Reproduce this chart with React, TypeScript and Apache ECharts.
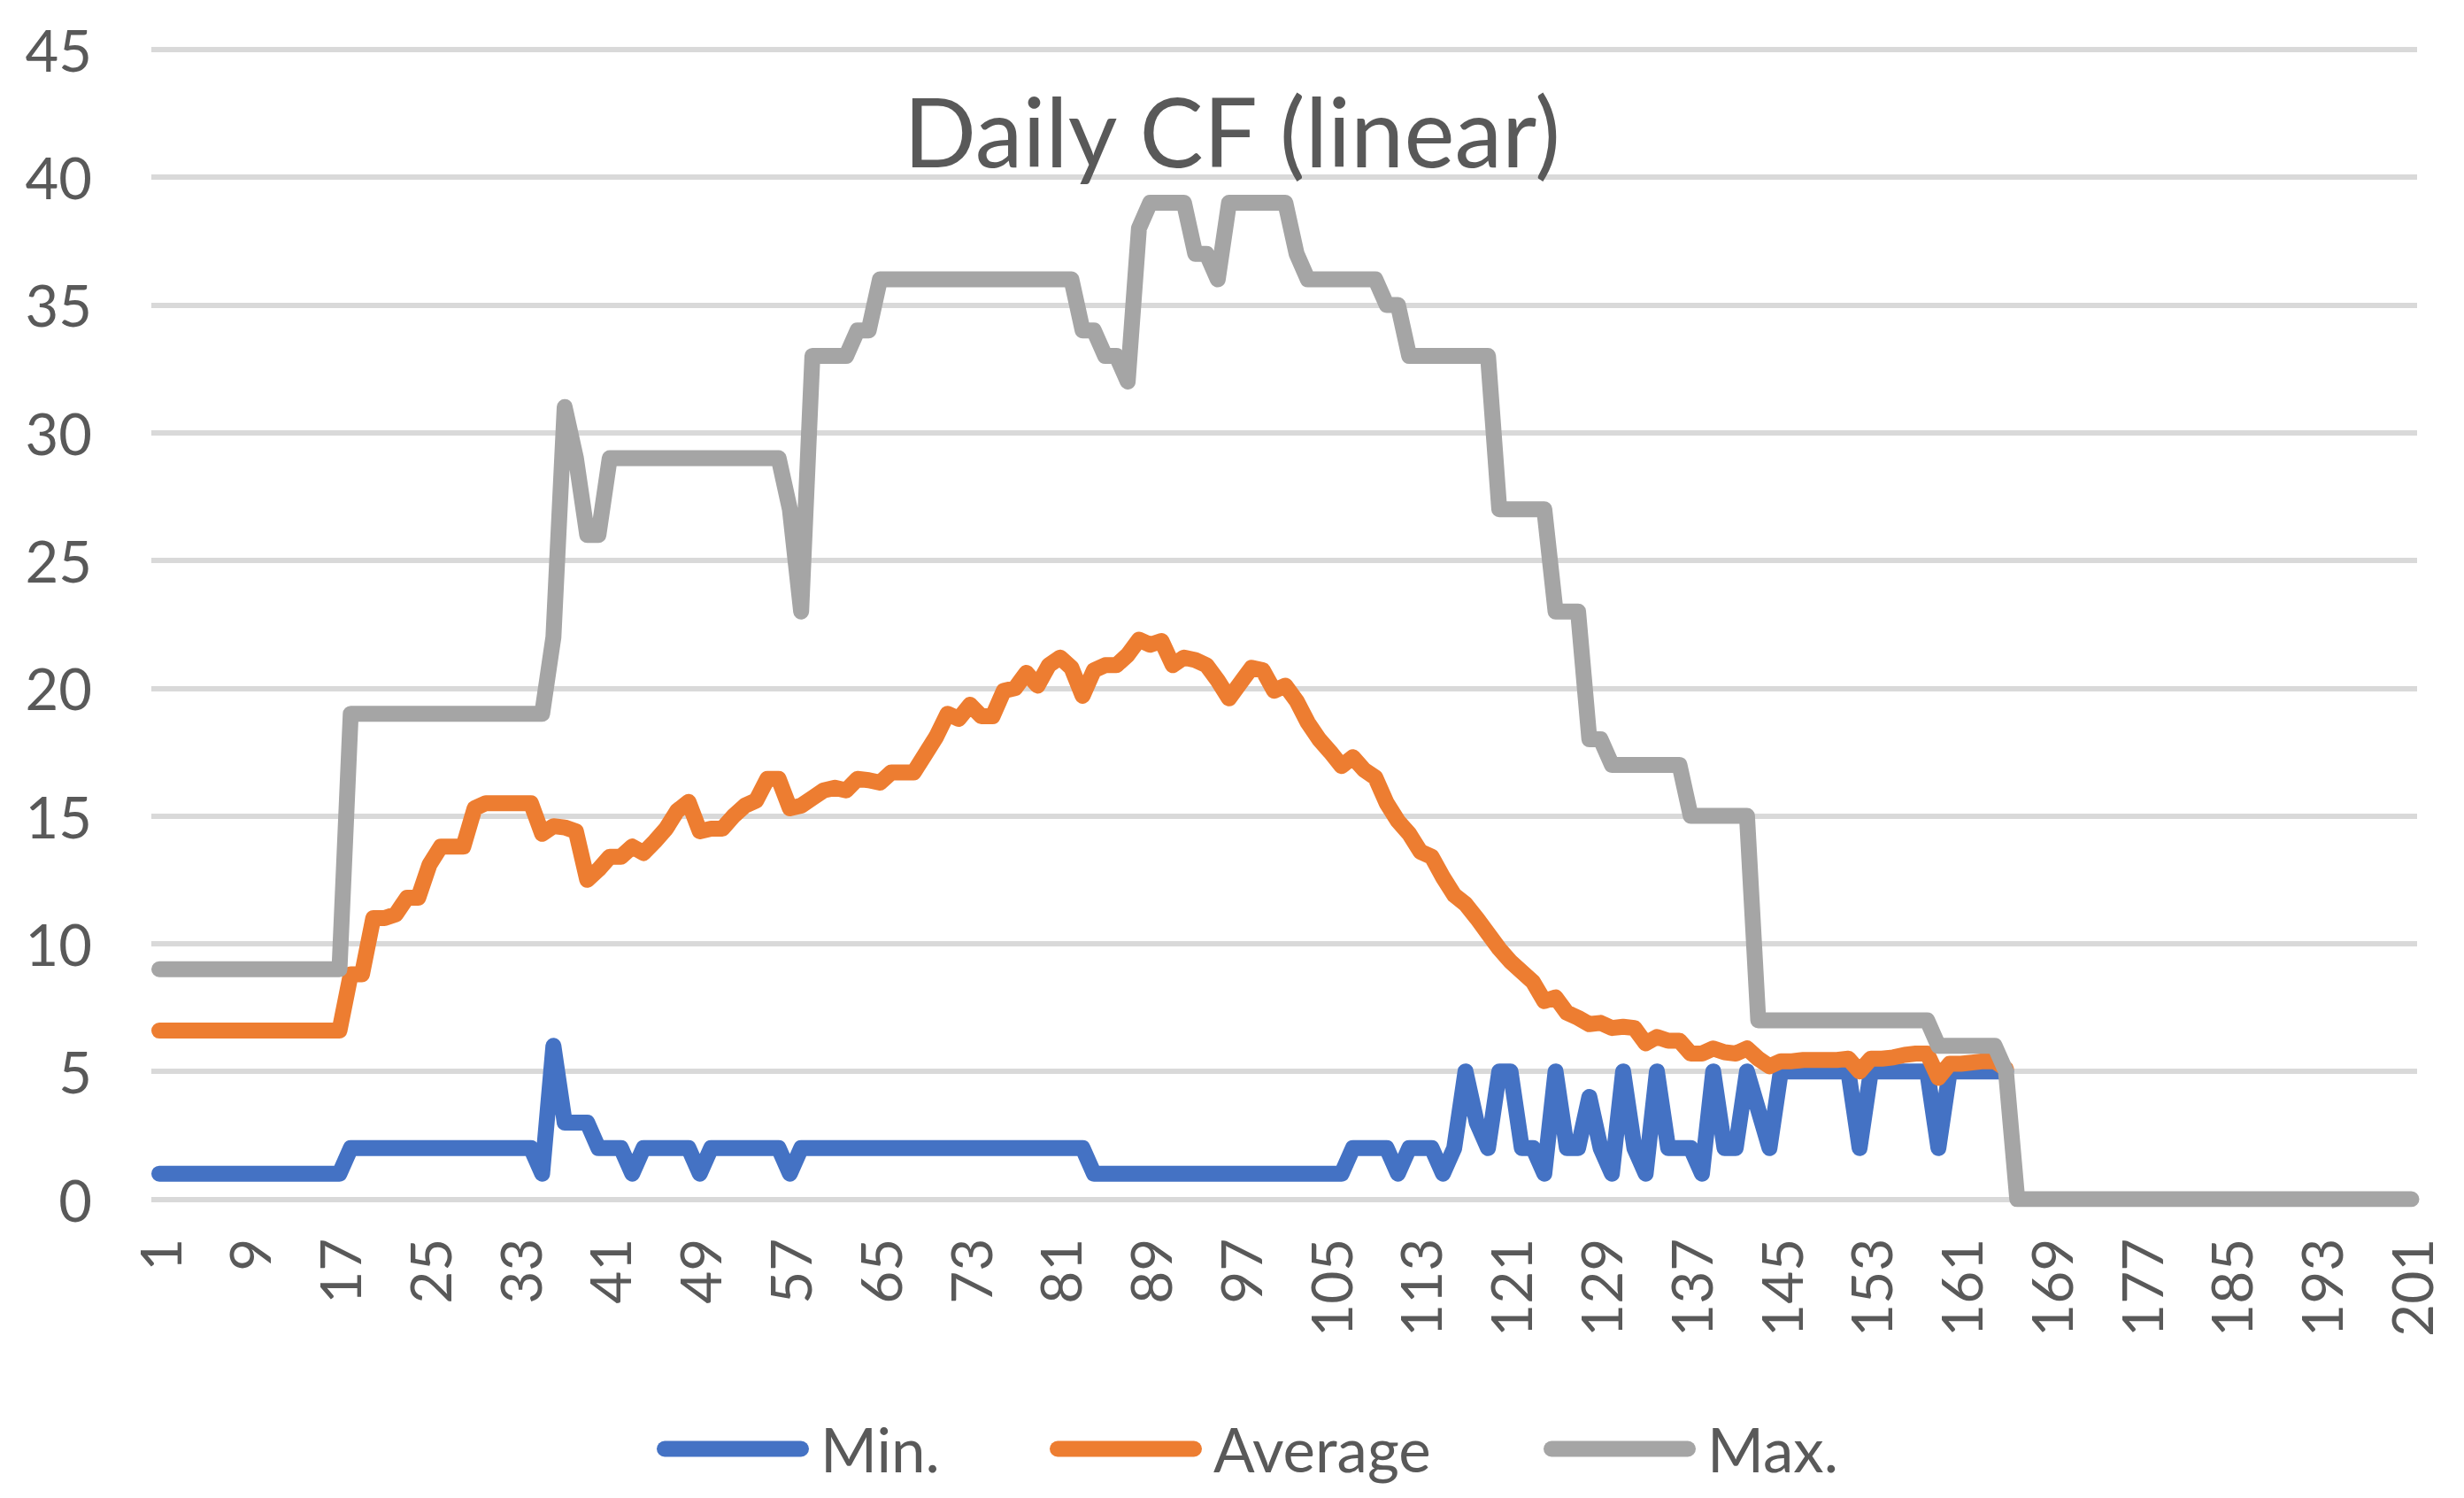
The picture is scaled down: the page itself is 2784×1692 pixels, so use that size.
import React, { useEffect, useRef } from 'react';
import * as echarts from 'echarts';

const categories: string[] = Array.from({ length: 201 }, (_, i) => String(i + 1));

const minValues: number[] = [
  1, 1, 1, 1, 1, 1, 1, 1, 1, 1,
  1, 1, 1, 1, 1, 1, 1, 2, 2, 2,
  2, 2, 2, 2, 2, 2, 2, 2, 2, 2,
  2, 2, 2, 2, 1, 6, 3, 3, 3, 2,
  2, 2, 1, 2, 2, 2, 2, 2, 1, 2,
  2, 2, 2, 2, 2, 2, 1, 2, 2, 2,
  2, 2, 2, 2, 2, 2, 2, 2, 2, 2,
  2, 2, 2, 2, 2, 2, 2, 2, 2, 2,
  2, 2, 2, 1, 1, 1, 1, 1, 1, 1,
  1, 1, 1, 1, 1, 1, 1, 1, 1, 1,
  1, 1, 1, 1, 1, 1, 2, 2, 2, 2,
  1, 2, 2, 2, 1, 2, 5, 3, 2, 5,
  5, 2, 2, 1, 5, 2, 2, 4, 2, 1,
  5, 2, 1, 5, 2, 2, 2, 1, 5, 2,
  2, 5, 3.5, 2, 5, 5, 5, 5, 5, 5,
  5, 2, 5, 5, 5, 5, 5, 5, 2, 5,
  5, 5, 5, 5, 5,
];

const averageValues: number[] = [
  6.6, 6.6, 6.6, 6.6, 6.6, 6.6, 6.6, 6.6, 6.6, 6.6,
  6.6, 6.6, 6.6, 6.6, 6.6, 6.6, 6.6, 8.8, 8.8, 11.0,
  11.0, 11.15, 11.8, 11.8, 13.1, 13.8, 13.8, 13.8, 15.3, 15.5,
  15.5, 15.5, 15.5, 15.5, 14.3, 14.6, 14.55, 14.4, 12.5, 12.9,
  13.4, 13.4, 13.8, 13.55, 14.0, 14.5, 15.2, 15.55, 14.4, 14.5,
  14.5, 15.0, 15.4, 15.6, 16.45, 16.45, 15.3, 15.4, 15.7, 16.0,
  16.1, 16.0, 16.45, 16.4, 16.3, 16.7, 16.7, 16.7, 17.4, 18.1,
  19.0, 18.8, 19.35, 18.9, 18.9, 19.9, 20.0, 20.6, 20.1, 20.9,
  21.2, 20.8, 19.7, 20.7, 20.9, 20.9, 21.3, 21.9, 21.7, 21.85,
  20.9, 21.2, 21.1, 20.9, 20.3, 19.6, 20.2, 20.8, 20.7, 19.9,
  20.1, 19.5, 18.65, 18.0, 17.5, 16.95, 17.3, 16.8, 16.5, 15.5,
  14.8, 14.3, 13.6, 13.4, 12.6, 11.9, 11.55, 11.0, 10.4, 9.8,
  9.3, 8.9, 8.5, 7.75, 7.9, 7.3, 7.1, 6.85, 6.9, 6.7,
  6.75, 6.7, 6.1, 6.35, 6.2, 6.2, 5.7, 5.7, 5.9, 5.75,
  5.7, 5.9, 5.5, 5.2, 5.4, 5.4, 5.45, 5.45, 5.45, 5.45,
  5.5, 5.0, 5.5, 5.5, 5.55, 5.65, 5.7, 5.7, 4.75, 5.3,
  5.3, 5.35, 5.4, 5.4, 5.1,
];

const maxValues: number[] = [
  9, 9, 9, 9, 9, 9, 9, 9, 9, 9,
  9, 9, 9, 9, 9, 9, 9, 19, 19, 19,
  19, 19, 19, 19, 19, 19, 19, 19, 19, 19,
  19, 19, 19, 19, 19, 22, 31, 29, 26, 26,
  29, 29, 29, 29, 29, 29, 29, 29, 29, 29,
  29, 29, 29, 29, 29, 29, 27, 23, 33, 33,
  33, 33, 34, 34, 36, 36, 36, 36, 36, 36,
  36, 36, 36, 36, 36, 36, 36, 36, 36, 36,
  36, 36, 34, 34, 33, 33, 32, 38, 39, 39,
  39, 39, 37, 37, 36, 39, 39, 39, 39, 39,
  39, 37, 36, 36, 36, 36, 36, 36, 36, 35,
  35, 33, 33, 33, 33, 33, 33, 33, 33, 27,
  27, 27, 27, 27, 23, 23, 23, 18, 18, 17,
  17, 17, 17, 17, 17, 17, 15, 15, 15, 15,
  15, 15, 7, 7, 7, 7, 7, 7, 7, 7,
  7, 7, 7, 7, 7, 7, 7, 7, 6, 6,
  6, 6, 6, 6, 5, 0, 0, 0, 0, 0,
  0, 0, 0, 0, 0, 0, 0, 0, 0, 0,
  0, 0, 0, 0, 0, 0, 0, 0, 0, 0,
  0, 0, 0, 0, 0, 0, 0, 0, 0, 0,
  0,
];

const seriesNames = ['Min.', 'Average', 'Max.'];
const seriesColors = ['#4472C4', '#ED7D31', '#A5A5A5'];
const yMin = 0;
const yMax = 45;
const yStep = 5;
const titleText = 'Daily CF (linear)';

const FONT = 'Lato, "Open Sans", sans-serif';
const TEXT_COLOR = '#595959';
const LEGEND_LEFTS = [742, 1186, 1744];
const CAPSULE = 'path://M9 0H163A9 9 0 0 1 163 18H9A9 9 0 0 1 9 0Z';

export default function App() {
  const ref = useRef<HTMLDivElement>(null);

  useEffect(() => {
    if (!ref.current) return;
    const chart = echarts.init(ref.current, null, { renderer: 'svg' });
    const values = [minValues, averageValues, maxValues];

    chart.setOption({
      animation: false,
      backgroundColor: '#ffffff',
      title: {
        text: titleText,
        left: 'center',
        top: 93,
        padding: 0,
        textStyle: {
          fontFamily: FONT,
          fontSize: 108,
          fontWeight: 'normal',
          color: TEXT_COLOR,
        },
      },
      legend: seriesNames.map((name, i) => ({
        data: [name],
        left: LEGEND_LEFTS[i],
        top: 1602,
        padding: 0,
        icon: CAPSULE,
        itemWidth: 172,
        itemHeight: 18,
        itemStyle: { borderWidth: 0 },
        textStyle: { fontFamily: FONT, fontSize: 69, color: TEXT_COLOR, padding: [0, 0, 0, 8] },
        selectedMode: false,
      })),
      grid: [
        { left: 180, right: 59.5, top: 55.8, bottom: 337.5 },
        { left: 171, right: 53, top: 55.8, bottom: 337.5 },
      ],
      xAxis: [
        {
          type: 'category',
          gridIndex: 0,
          data: categories,
          boundaryGap: false,
          axisLine: { show: false },
          axisTick: { show: false },
          axisLabel: {
            interval: 7,
            rotate: 90,
            margin: 44,
            fontFamily: FONT,
            fontSize: 64,
            color: TEXT_COLOR,
          },
          splitLine: { show: false },
        },
        {
          type: 'value',
          gridIndex: 1,
          show: false,
          min: 0,
          max: 1,
        },
      ],
      yAxis: [
        {
          type: 'value',
          gridIndex: 0,
          min: yMin,
          max: yMax,
          interval: yStep,
          axisLine: { show: false },
          axisTick: { show: false },
          splitLine: { show: false },
          axisLabel: {
            margin: 76,
            fontFamily: FONT,
            fontSize: 65,
            color: TEXT_COLOR,
          },
        },
        {
          type: 'value',
          gridIndex: 1,
          min: yMin,
          max: yMax,
          interval: yStep,
          axisLine: { show: false },
          axisTick: { show: false },
          axisLabel: { show: false },
          splitLine: { show: true, lineStyle: { color: '#D9D9D9', width: 6 } },
        },
      ],
      series: seriesNames.map((name, i) => ({
        name,
        type: 'line',
        xAxisIndex: 0,
        yAxisIndex: 0,
        data: values[i],
        showSymbol: false,
        symbol: 'none',
        smooth: false,
        color: seriesColors[i],
        lineStyle: { width: 18, color: seriesColors[i], cap: 'round', join: 'round' },
        emphasis: { disabled: true },
      })),
    });

    return () => chart.dispose();
  }, []);

  return (
    <div
      ref={ref}
      style={{ position: 'absolute', left: 0, top: 0, width: 2784, height: 1692, background: '#ffffff' }}
    />
  );
}
